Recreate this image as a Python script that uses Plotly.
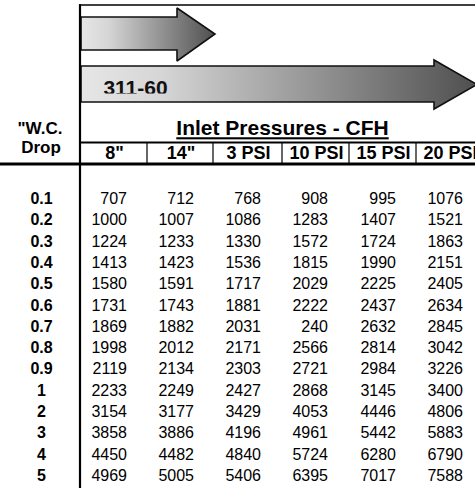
import plotly.graph_objects as go

# ---------------- data ----------------
row_labels = ["0.1", "0.2", "0.3", "0.4", "0.5", "0.6", "0.7", "0.8", "0.9", "1", "2", "3", "4", "5"]
col_labels = ['8"', '14"', "3 PSI", "10 PSI", "15 PSI", "20 PSI"]
cfh_8in = [707, 1000, 1224, 1413, 1580, 1731, 1869, 1998, 2119, 2233, 3154, 3858, 4450, 4969]
cfh_14in = [712, 1007, 1233, 1423, 1591, 1743, 1882, 2012, 2134, 2249, 3177, 3886, 4482, 5005]
cfh_3psi = [768, 1086, 1330, 1536, 1717, 1881, 2031, 2171, 2303, 2427, 3429, 4196, 4840, 5406]
cfh_10psi = [908, 1283, 1572, 1815, 2029, 2222, 240, 2566, 2721, 2868, 4053, 4961, 5724, 6395]
cfh_15psi = [995, 1407, 1724, 1990, 2225, 2437, 2632, 2814, 2984, 3145, 4446, 5442, 6280, 7017]
cfh_20psi = [1076, 1521, 1863, 2151, 2405, 2634, 2845, 3042, 3226, 3400, 4806, 5883, 6790, 7588]
series = [cfh_8in, cfh_14in, cfh_3psi, cfh_10psi, cfh_15psi, cfh_20psi]
title_text = "Inlet Pressures - CFH"
row_head = ['"W.C.', "Drop"]
model_label = "311-60"

# ---------------- geometry ----------------
W, H = 475, 490
col_edges = [80, 147, 213, 282, 349, 416, 483]
col_right = [127, 194, 261, 328, 396, 463]
row_y0, row_dy = 200, 21.3
row_ys = [row_y0 + i * row_dy for i in range(len(row_labels))]

BLACK = "#000000"
fig = go.Figure()

# arrows (gradient filled polygons)
grad = dict(type="horizontal", colorscale=[[0, "#e6e6e6"], [0.2, "#d6d6d6"], [1, "#4f4f4f"]])
small_arrow = dict(x=[81, 177, 177, 215, 177, 177, 81, 81], y=[17, 17, 8, 34, 61, 50, 50, 17])
big_arrow = dict(x=[81, 434, 434, 477, 434, 434, 81, 81], y=[66, 66, 60, 84.5, 109, 102, 102, 66])
for a in (small_arrow, big_arrow):
    fig.add_trace(go.Scatter(x=a["x"], y=a["y"], mode="lines", fill="toself",
                             fillgradient=grad, line=dict(color="#111111", width=1.6),
                             hoverinfo="skip", showlegend=False))

# model label, clipped by a small subplot
fig.add_trace(go.Scatter(x=[135.5], y=[89.5], mode="text", text=[model_label],
                         textfont=dict(family="Liberation Sans", size=21, color="#111111"),
                         texttemplate="<b>%{text}</b>", cliponaxis=True,
                         xaxis="x2", yaxis="y2", hoverinfo="skip", showlegend=False))

# row labels
fig.add_trace(go.Scatter(x=[41.5] * len(row_labels), y=row_ys, mode="text",
                         text=[f"<b>{r}</b>" for r in row_labels], textposition="middle center",
                         textfont=dict(family="Liberation Sans", size=16, color=BLACK),
                         hoverinfo="skip", showlegend=False))

# values
for ci, vals in enumerate(series):
    fig.add_trace(go.Scatter(x=[col_right[ci]] * len(vals), y=row_ys, mode="text",
                             text=[str(v) for v in vals], textposition="middle left",
                             textfont=dict(family="Liberation Sans", size=16, color=BLACK),
                             hoverinfo="skip", showlegend=False))

# column headers
fig.add_trace(go.Scatter(x=[(col_edges[i] + col_edges[i + 1]) / 2 + 1 for i in range(6)], y=[154] * 6,
                         mode="text", text=[f"<b>{c}</b>" for c in col_labels], textposition="middle center",
                         textfont=dict(family="Liberation Sans", size=18, color=BLACK),
                         cliponaxis=False, hoverinfo="skip", showlegend=False))

# title and row header
fig.add_trace(go.Scatter(x=[282.5], y=[130], mode="text", text=[f"<b><u>{title_text}</u></b>"],
                         textfont=dict(family="Liberation Sans", size=21, color=BLACK),
                         hoverinfo="skip", showlegend=False))
fig.add_trace(go.Scatter(x=[40, 41], y=[129.5, 149], mode="text", text=[f"<b>{t}</b>" for t in row_head],
                         textfont=dict(family="Liberation Sans", size=17, color=BLACK),
                         hoverinfo="skip", showlegend=False))

shapes = []
def line(x0, y0, x1, y1, w):
    shapes.append(dict(type="line", xref="x", yref="y", x0=x0, y0=y0, x1=x1, y1=y1,
                       line=dict(color=BLACK, width=w), layer="above"))

line(79, 5, 476, 5, 1.6)          # top border
line(80, 4.2, 80, 488, 2.2)       # main vertical
line(80, 142.5, 476, 142.5, 2.2)  # header line
line(-1, 164, 476, 164, 3)        # thick separator
for xe in col_edges[1:-1]:
    line(xe, 142.5, xe, 164, 1.2)

fig.update_layout(
    width=W, height=H, margin=dict(l=0, r=0, t=0, b=0),
    paper_bgcolor="white", plot_bgcolor="rgba(0,0,0,0)",
    xaxis=dict(range=[0, W], visible=False, fixedrange=True),
    yaxis=dict(range=[H, 0], visible=False, fixedrange=True),
    xaxis2=dict(range=[0, W], domain=[0, 1], visible=False, anchor="y2", fixedrange=True),
    yaxis2=dict(range=[93.5, 0], domain=[1 - 93.5 / H, 1], visible=False, anchor="x2", fixedrange=True),
    shapes=shapes, showlegend=False,
)
fig.write_html("out.html", config={"staticPlot": True},
               post_script="document.body.style.margin='0';document.body.style.overflow='hidden';")
